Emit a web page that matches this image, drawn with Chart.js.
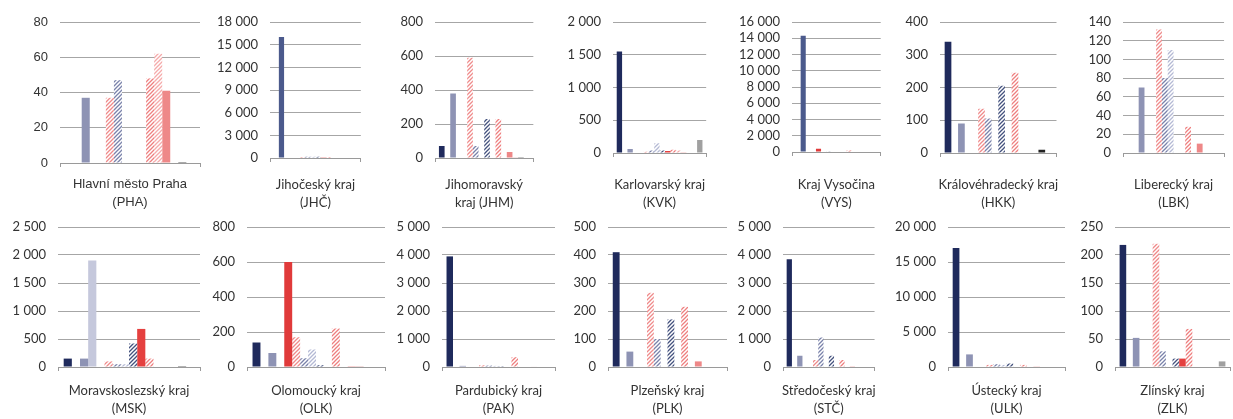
<!DOCTYPE html>
<html>
<head>
<meta charset="utf-8">
<script src="https://cdn.jsdelivr.net/npm/chart.js@4.4.0/dist/chart.umd.min.js"></script>
<style>
  body { margin: 0; background: #fff; width: 1233px; height: 419px; overflow: hidden; position: relative; }
  canvas { position: absolute; }
</style>
</head>
<body>
<script>
// region labels (two lines each)
var regionLabels = [
  ['Hlavní město Praha', '(PHA)'], ['Jihočeský kraj', '(JHČ)'], ['Jihomoravský', 'kraj (JHM)'],
  ['Karlovarský kraj', '(KVK)'], ['Kraj Vysočina', '(VYS)'], ['Královéhradecký kraj', '(HKK)'],
  ['Liberecký kraj', '(LBK)'], ['Moravskoslezský kraj', '(MSK)'], ['Olomoucký kraj', '(OLK)'],
  ['Pardubický kraj', '(PAK)'], ['Plzeňský kraj', '(PLK)'], ['Středočeský kraj', '(STČ)'],
  ['Ústecký kraj', '(ULK)'], ['Zlínský kraj', '(ZLK)']
];

// axis ranges
var yMax  = [80, 18000, 800, 2000, 16000, 400, 140, 2500, 800, 5000, 500, 5000, 20000, 250];
var yStep = [20, 3000, 200, 500, 2000, 100, 20, 500, 200, 1000, 100, 1000, 5000, 50];

// 16 series per region
var valsPHA = [0, 0, 37, 0, 0, 37, 47, 0, 0, 0, 48, 62, 41, 0, 0.5, 0];
var valsJHC = [0, 16000, 0, 0, 0, 120, 150, 180, 150, 100, 120, 60, 0, 0, 0, 0];
var valsJHM = [70, 0, 380, 0, 0, 590, 70, 0, 230, 0, 230, 0, 35, 5, 5, 0];
var valsKVK = [1550, 0, 60, 0, 0, 20, 40, 150, 40, 30, 50, 40, 10, 0, 0, 200];
var valsVYS = [0, 14300, 0, 0, 400, 0, 30, 0, 50, 0, 200, 0, 50, 0, 0, 0];
var valsHKK = [340, 0, 90, 0, 0, 135, 105, 0, 205, 0, 245, 0, 0, 0, 10, 0];
var valsLBK = [0, 0, 70, 0, 0, 132, 80, 110, 0, 0, 28, 0, 10, 0, 0, 0];
var valsMSK = [150, 0, 150, 1900, 0, 100, 50, 50, 420, 680, 150, 0, 0, 0, 15, 0];
var valsOLK = [140, 0, 80, 0, 600, 170, 50, 100, 10, 0, 220, 0, 5, 5, 0, 0];
var valsPAK = [3950, 0, 40, 0, 0, 60, 50, 40, 30, 0, 350, 0, 0, 20, 0, 0];
var valsPLK = [410, 0, 55, 0, 0, 265, 100, 0, 170, 0, 215, 0, 20, 0, 0, 0];
var valsSTC = [3850, 0, 400, 0, 0, 250, 1050, 0, 400, 0, 250, 0, 30, 0, 0, 0];
var valsULK = [17000, 0, 1800, 0, 0, 300, 400, 300, 500, 0, 300, 0, 100, 0, 0, 0];
var valsZLK = [218, 0, 52, 0, 0, 220, 28, 0, 15, 15, 68, 0, 0, 0, 0, 10];

var allVals = [valsPHA, valsJHC, valsJHM, valsKVK, valsVYS, valsHKK, valsLBK,
               valsMSK, valsOLK, valsPAK, valsPLK, valsSTC, valsULK, valsZLK];

// series styles
var seriesColors = ['#1f2a5c', '#4b5a8c', '#8e93b4', '#c5c8dc', '#e03a3a', '#ef8a8a', '#7a82aa', '#b4b9d4',
                    '#44527e', '#e5403f', '#ee7f7f', '#f5aaaa', '#ee8888', '#d9a0a0', '#222222', '#a0a0a0'];
var seriesHatched = [false, false, false, false, false, true, true, true,
                     true, false, true, true, false, false, false, false];

// panel layout: [left, gridStart, gridEnd, zeroY]
var panelLayout = [
  [0, 60, 200, 163], [203, 270, 367, 158], [370, 435, 535, 158], [538, 613, 722, 153],
  [725, 792, 893, 152], [896, 940, 1075, 153], [1078, 1123, 1230, 153],
  [0, 58, 200, 162], [203, 247, 385, 162], [388, 442, 555, 162], [558, 608, 727, 162],
  [730, 783, 885, 162], [888, 948, 1065, 162], [1068, 1115, 1230, 162]
];

function hatch(color) {
  var s = 4;
  var c = document.createElement('canvas');
  c.width = s; c.height = s;
  var g = c.getContext('2d');
  g.fillStyle = '#fff';
  g.fillRect(0, 0, s, s);
  g.strokeStyle = color;
  g.lineWidth = 1.3;
  g.beginPath();
  g.moveTo(0, s); g.lineTo(s, 0);
  g.moveTo(-1, 1); g.lineTo(1, -1);
  g.moveTo(s - 1, s + 1); g.lineTo(s + 1, s - 1);
  g.stroke();
  return g.createPattern(c, 'repeat');
}

function fmt(v) {
  return String(v).replace(/\B(?=(\d{3})+(?!\d))/g, '\u00a0');
}

for (var i = 0; i < allVals.length; i++) {
  (function(i) {
    var lay = panelLayout[i];
    var topRow = i < 7;
    var canvasTop = topRow ? 0 : 205;
    var canvasH = topRow ? 216 : 214;
    var width = lay[2] + 3 - lay[0];
    var axisW = lay[1] - lay[0];
    var zeroY = lay[3];
    var labelTop = topRow ? 175.5 : 177;
    var family = i === 0 ? '"Liberation Sans", Arial, sans-serif' : 'Lato, "Open Sans", sans-serif';

    var cv = document.createElement('canvas');
    cv.width = width; cv.height = canvasH;
    cv.style.left = lay[0] + 'px';
    cv.style.top = canvasTop + 'px';
    document.body.appendChild(cv);

    var datasets = [];
    for (var k = 0; k < 16; k++) {
      datasets.push({
        data: [allVals[i][k]],
        backgroundColor: seriesHatched[k] ? hatch(seriesColors[k]) : seriesColors[k],
        borderWidth: 0,
        categoryPercentage: 0.92,
        barPercentage: 1
      });
    }

    new Chart(cv.getContext('2d'), {
      type: 'bar',
      data: { labels: [regionLabels[i]], datasets: datasets },
      options: {
        responsive: false,
        animation: false,
        devicePixelRatio: 1,
        layout: { padding: { top: 22, right: 3, left: 0, bottom: 0 } },
        plugins: { legend: { display: false }, tooltip: { enabled: false } },
        scales: {
          x: {
            grid: { drawOnChartArea: false, drawTicks: true, tickLength: 4, color: '#9a9a9a' },
            border: { color: '#9a9a9a' },
            ticks: { color: '#333', font: { family: family, size: 13, lineHeight: 1.4 }, padding: labelTop - zeroY - 4, maxRotation: 0 },
            afterFit: function(s) { s.height = canvasH - zeroY; }
          },
          y: {
            min: 0, max: yMax[i],
            ticks: { stepSize: yStep[i], autoSkip: false, callback: fmt, color: '#333', font: { family: family, size: 13 }, padding: 12 },
            grid: { color: '#a6a6a6', drawTicks: false },
            border: { display: false },
            afterFit: function(s) { s.width = axisW; }
          }
        }
      }
    });
  })(i);
}
</script>
</body>
</html>
